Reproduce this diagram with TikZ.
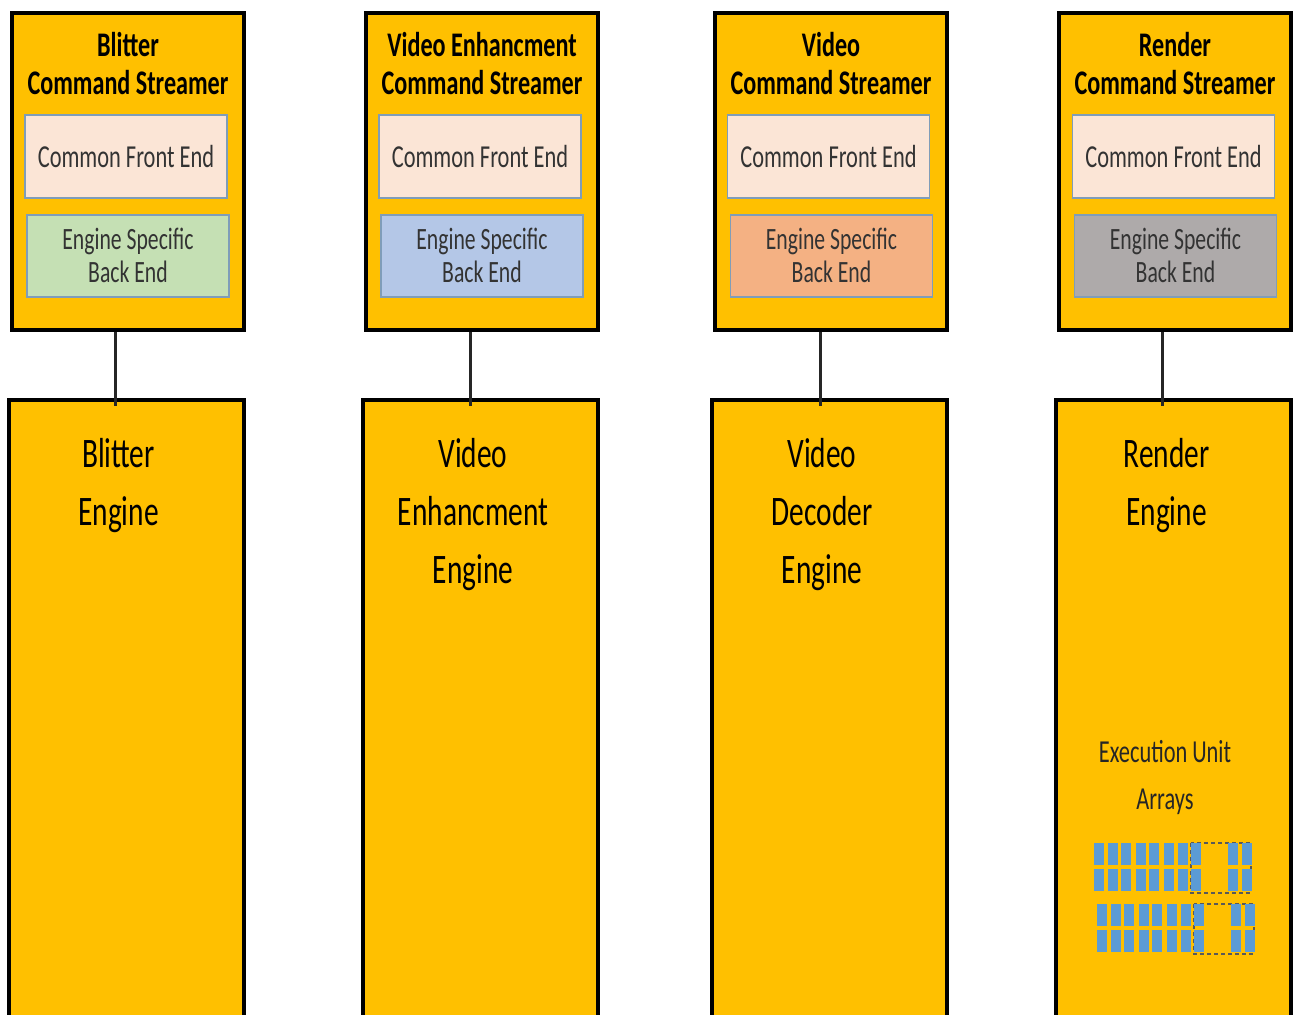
\documentclass[tikz,border=0pt]{standalone}
\usepackage{fontspec}
\setmainfont{Carlito}[FakeStretch=0.7]
\usetikzlibrary{positioning}
\definecolor{gold}{HTML}{FFC000}
\definecolor{frontend}{HTML}{FBE5D6}
\definecolor{bgreen}{HTML}{C5E0B4}
\definecolor{bblue}{HTML}{B4C7E7}
\definecolor{borange}{HTML}{F4B183}
\definecolor{bgrey}{HTML}{AEAAAA}
\definecolor{eublue}{HTML}{5B9BD5}
\definecolor{thinedge}{HTML}{7F9DB9}

\begin{document}
\begin{tikzpicture}[x=1pt,y=-1pt,
    cmdbox/.style={draw=black,line width=4pt,fill=gold,minimum width=232,minimum height=317,inner sep=0pt},
    engbox/.style={draw=black,line width=4pt,fill=gold,minimum width=235,minimum height=640,inner sep=0pt},
    febox/.style={draw=thinedge,line width=1.5pt,fill=frontend,minimum width=202,minimum height=83,inner sep=0pt,anchor=north,font=\fontsize{32}{34}\selectfont,text=black!80},
    bebox/.style={draw=thinedge,line width=1.5pt,minimum width=202,minimum height=82,inner sep=0pt,anchor=north,align=center,font=\fontsize{31}{33}\selectfont,text=black!80},
    head/.style={align=center,font=\bfseries\fontsize{34.5}{38}\selectfont,inner sep=0pt},
    engtext/.style={align=center,font=\fontsize{42}{58}\selectfont,inner sep=0pt,anchor=north},
    link/.style={draw=black!85,line width=3pt}]
    \useasboundingbox (0,0) rectangle (1294,1015);
    \clip (0,0) rectangle (1294,1015);

    %%%%%%%%%%%%%%%%%%%
    %%% Blitter
    %%%%%%%%%%%%%%%%%%%
    \node[cmdbox,anchor=north] (cs1) at (128,11) {};
    \node[head] at ([yshift=-53pt]cs1.north) {Blitter\\Command Streamer};
    \node[febox] (fe1) at ([xshift=-2pt,yshift=-103pt]cs1.north) {Common Front End};
    \node[bebox,fill=bgreen] (be1) at ([yshift=-203pt]cs1.north) {Engine Specific\\Back End};

    \node[engbox,below=66pt of cs1,xshift=-1.5pt,anchor=north] (eng1) {};
    \node[engtext] at ([xshift=-8pt,yshift=-40pt]eng1.north) {Blitter\\Engine};
    \draw[link] ([xshift=-13pt]cs1.south) -- ([xshift=-13pt,yshift=-8pt]cs1.south |- eng1.north);

    %%%%%%%%%%%%%%%%%%%
    %%% Video enhancement
    %%%%%%%%%%%%%%%%%%%
    \node[cmdbox,anchor=north] (cs2) at (482,11) {};
    \node[head] at ([yshift=-53pt]cs2.north) {Video Enhancment\\Command Streamer};
    \node[febox] (fe2) at ([xshift=-2pt,yshift=-103pt]cs2.north) {Common Front End};
    \node[bebox,fill=bblue] (be2) at ([yshift=-203pt]cs2.north) {Engine Specific\\Back End};

    \node[engbox,below=66pt of cs2,xshift=-2pt,anchor=north] (eng2) {};
    \node[engtext] at ([xshift=-7pt,yshift=-40pt]eng2.north) {Video\\Enhancment\\Engine};
    \draw[link] ([xshift=-12pt]cs2.south) -- ([xshift=-12pt,yshift=-8pt]cs2.south |- eng2.north);

    %%%%%%%%%%%%%%%%%%%
    %%% Video decoder
    %%%%%%%%%%%%%%%%%%%
    \node[cmdbox,anchor=north] (cs3) at (831,11) {};
    \node[head] at ([yshift=-53pt]cs3.north) {Video\\Command Streamer};
    \node[febox] (fe3) at ([xshift=-2.5pt,yshift=-103pt]cs3.north) {Common Front End};
    \node[bebox,fill=borange] (be3) at ([xshift=0.5pt,yshift=-203pt]cs3.north) {Engine Specific\\Back End};

    \node[engbox,below=66pt of cs3,xshift=-2pt,anchor=north] (eng3) {};
    \node[engtext] at ([xshift=-7pt,yshift=-40pt]eng3.north) {Video\\Decoder\\Engine};
    \draw[link] ([xshift=-11pt]cs3.south) -- ([xshift=-11pt,yshift=-8pt]cs3.south |- eng3.north);

    %%%%%%%%%%%%%%%%%%%
    %%% Render
    %%%%%%%%%%%%%%%%%%%
    \node[cmdbox,anchor=north] (cs4) at (1175,11) {};
    \node[head] at ([yshift=-53pt]cs4.north) {Render\\Command Streamer};
    \node[febox] (fe4) at ([xshift=-1.5pt,yshift=-103pt]cs4.north) {Common Front End};
    \node[bebox,fill=bgrey] (be4) at ([xshift=0.5pt,yshift=-203pt]cs4.north) {Engine Specific\\Back End};

    \node[engbox,below=66pt of cs4,xshift=-1.5pt,anchor=north] (eng4) {};
    \node[engtext] at ([xshift=-7pt,yshift=-40pt]eng4.north) {Render\\Engine};
    \draw[link] ([xshift=-13pt]cs4.south) -- ([xshift=-13pt,yshift=-8pt]cs4.south |- eng4.north);

    % execution unit arrays
    \node[align=center,font=\fontsize{32}{47}\selectfont,inner sep=0pt,text=black!85] (eulabel) at (1165,778) {Execution Unit\\Arrays};
    \foreach \dx/\y in {0/843, 3/904} {
        \draw[black!65,line width=1.5pt,dash pattern=on 4pt off 3pt] (1191+\dx,\y) rectangle (1251+\dx,\y+50);
        \foreach \x in {1094,1108,1121,1136,1149,1164,1178,1191,1228,1242} {
            \fill[eublue] (\x+\dx,\y) rectangle ++(10,22);
            \fill[eublue] (\x+\dx,\y+26) rectangle ++(10,22);
        }
    }
\end{tikzpicture}
\end{document}
